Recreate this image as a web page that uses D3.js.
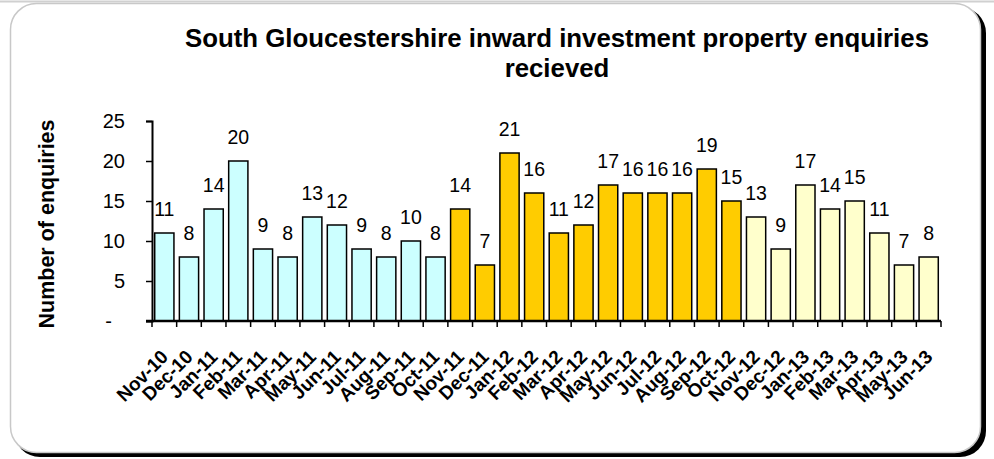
<!DOCTYPE html>
<html><head><meta charset="utf-8">
<script src="https://cdn.jsdelivr.net/npm/d3@7/dist/d3.min.js"></script>
<style>body{margin:0;background:#fff}svg{display:block}text{font-family:"Liberation Sans",Arial,sans-serif}</style>
</head><body><svg id="c" width="994" height="459"></svg>
<script>
const months = ["Nov-10","Dec-10","Jan-11","Feb-11","Mar-11","Apr-11","May-11","Jun-11","Jul-11","Aug-11","Sep-11","Oct-11",
"Nov-11","Dec-11","Jan-12","Feb-12","Mar-12","Apr-12","May-12","Jun-12","Jul-12","Aug-12","Sep-12","Oct-12",
"Nov-12","Dec-12","Jan-13","Feb-13","Mar-13","Apr-13","May-13","Jun-13"];
const enquiries = [11,8,14,20,9,8,13,12,9,8,10,8,
14,7,21,16,11,12,17,16,16,16,19,15,
13,9,17,14,15,11,7,8];
const periods = ["p1","p1","p1","p1","p1","p1","p1","p1","p1","p1","p1","p1",
"p2","p2","p2","p2","p2","p2","p2","p2","p2","p2","p2","p2",
"p3","p3","p3","p3","p3","p3","p3","p3"];
const yTicks = [0,5,10,15,20,25];
const yTickLabels = ["-","5","10","15","20","25"];
const titleLines = ["South Gloucestershire inward investment property enquiries","recieved"];
const yTitle = "Number of enquiries";

const svg = d3.select("#c");
const colors = {p1:"#CCFFFF", p2:"#FFCC00", p3:"#FFFFCC"};

// frame
svg.append("line").attr("x1",0).attr("x2",994).attr("y1",1.5).attr("y2",1.5).attr("stroke","#d0d0d0").attr("stroke-width",2);
svg.append("rect").attr("x",14).attr("y",7).attr("width",972).attr("height",450).attr("rx",26).attr("fill","#000");
svg.append("rect").attr("x",10.5).attr("y",3.5).attr("width",970).attr("height",449).attr("rx",26)
  .attr("fill","#fff").attr("stroke","#c8c8c8").attr("stroke-width",1.5);

const x0 = 152, x1 = 941, yTop = 121, yBot = 321;
const x = d3.scaleBand().domain(months).range([x0,x1]).paddingInner(0.22).paddingOuter(0.11);
const y = d3.scaleLinear().domain([0,25]).range([yBot,yTop]);
const step = x.step();

// bars
svg.append("g").selectAll("rect").data(months).join("rect")
  .attr("x",d=>x(d)).attr("width",x.bandwidth())
  .attr("y",(d,i)=>y(enquiries[i])).attr("height",(d,i)=>yBot-y(enquiries[i]))
  .attr("fill",(d,i)=>colors[periods[i]]).attr("stroke","#000").attr("stroke-width",1.5);

// value labels
svg.append("g").selectAll("text").data(months).join("text")
  .attr("x",d=>x(d)+x.bandwidth()/2).attr("y",(d,i)=>y(enquiries[i])-17)
  .attr("text-anchor","middle").attr("font-size",19.5).attr("fill","#000")
  .text((d,i)=>enquiries[i]);

// y axis
const yAxis = d3.axisLeft(y).tickValues(yTicks).tickFormat((d,i)=>yTickLabels[i]).tickSize(6).tickPadding(21);
const gy = svg.append("g").attr("transform",`translate(${x0},0)`).call(yAxis);
gy.select(".domain").attr("stroke","#000").attr("stroke-width",2);
gy.selectAll(".tick line").attr("stroke","#000").attr("stroke-width",1.5);
gy.selectAll(".tick text").attr("font-size",20).attr("fill","#000").attr("font-family","Liberation Sans, Arial, sans-serif")
  .attr("dx",(d,i)=>i===0?-13:0);

// x axis line + ticks between categories
const bounds = d3.range(months.length+1).map(i=>x0 + i*step);
svg.append("g").selectAll("line").data(bounds).join("line")
  .attr("x1",d=>d).attr("x2",d=>d).attr("y1",yBot).attr("y2",yBot+6).attr("stroke","#000").attr("stroke-width",1.5);
svg.append("line").attr("x1",x0-6).attr("x2",x1).attr("y1",yBot).attr("y2",yBot).attr("stroke","#000").attr("stroke-width",2.5);

// x labels
svg.append("g").selectAll("text").data(months).join("text")
  .attr("transform",d=>`translate(${x(d)+x.bandwidth()/2+5},${yBot+37}) rotate(-45)`)
  .attr("text-anchor","end").attr("font-size",19).attr("font-weight","bold").attr("fill","#000")
  .text(d=>d);

// titles
svg.append("g").selectAll("text").data(titleLines).join("text")
  .attr("x",557).attr("y",(d,i)=>47+i*30).attr("text-anchor","middle")
  .attr("font-size",25.8).attr("font-weight","bold").text(d=>d);

svg.append("text").attr("transform",`translate(54,224) rotate(-90)`).attr("text-anchor","middle")
  .attr("font-size",21.5).attr("font-weight","bold").text(yTitle);
</script></body></html>
